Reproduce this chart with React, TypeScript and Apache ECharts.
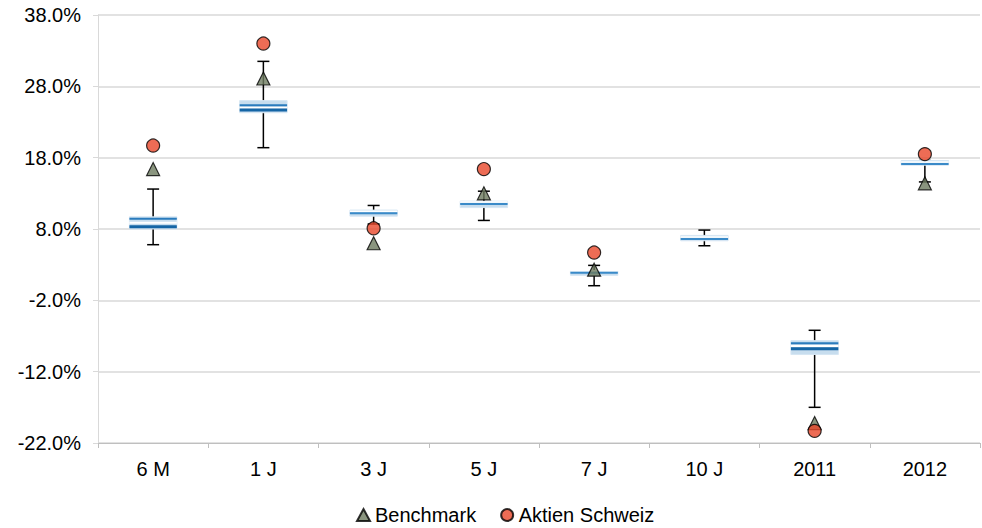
import React, { useEffect, useRef } from "react";
import * as echarts from "echarts";

const categories = ["6 M", "1 J", "3 J", "5 J", "7 J", "10 J", "2011", "2012"];
const lows = [5.8, 19.4, 8.7, 9.2, 0.05, 5.65, -17.0, 14.6];
const q1s = [8.0, 24.3, 9.8, 11.0, 1.5, 6.35, -9.6, 16.95];
const medians = [8.32, 24.68, 10.2, 11.5, 1.87, 6.6, -8.78, 17.1];
const means = [9.42, 25.34, 10.2, 11.5, 1.87, 6.6, -8.02, 17.1];
const q3s = [9.7, 26.0, 10.65, 11.9, 2.1, 7.1, -7.65, 17.6];
const highs = [13.6, 31.5, 11.3, 13.3, 2.9, 7.85, -6.2, 17.6];
const benchmark: (number | null)[] = [16.4, 29.1, 6.0, 13.0, 2.3, null, -19.2, 14.4];
const fund: (number | null)[] = [19.7, 34.0, 8.1, 16.4, 4.7, null, -20.3, 18.5];

const FONT = "'Liberation Sans', Arial, sans-serif";

export default function App() {
  const ref = useRef<HTMLDivElement>(null);
  useEffect(() => {
    if (!ref.current) return;
    const chart = echarts.init(ref.current, null, { renderer: "svg" });
    const boxData = categories.map((_, i) => [i, lows[i], q1s[i], medians[i], means[i], q3s[i], highs[i]]);
    chart.setOption({
      animation: false,
      grid: { left: 98, right: 2, top: 15, bottom: 85 },
      xAxis: {
        type: "category",
        data: categories,
        boundaryGap: true,
        axisLine: { onZero: false, lineStyle: { color: "#bfbfbf" } },
        axisTick: { show: true, length: 5, lineStyle: { color: "#bfbfbf" } },
        axisLabel: { color: "#000", fontSize: 20, fontFamily: FONT, margin: 16 },
      },
      yAxis: {
        type: "value",
        min: -22,
        max: 38,
        interval: 10,
        axisLine: { show: true, lineStyle: { color: "#d9d9d9" } },
        axisTick: { show: true, length: 5, lineStyle: { color: "#d9d9d9" } },
        splitLine: { lineStyle: { color: "#d9d9d9", width: 1.5 } },
        axisLabel: {
          color: "#000",
          fontSize: 20,
          fontFamily: FONT,
          margin: 17,
          formatter: (v: number) => v.toFixed(1) + "%",
        },
      },
      legend: {
        left: 356,
        top: 505,
        padding: 0,
        itemWidth: 13,
        itemHeight: 12,
        itemGap: 24,
        textStyle: { fontSize: 20, fontFamily: FONT, color: "#000" },
        data: [
          { name: "Benchmark", icon: "triangle" },
          { name: "Aktien Schweiz", icon: "circle" },
        ],
      },
      series: [
        {
          type: "custom",
          name: "box",
          data: boxData,
          z: 2,
          renderItem: (params: any, api: any) => {
            const i = api.value(0);
            const pLow = api.coord([i, api.value(1)]);
            const pQ1 = api.coord([i, api.value(2)]);
            const pMed = api.coord([i, api.value(3)]);
            const pMean = api.coord([i, api.value(4)]);
            const pQ3 = api.coord([i, api.value(5)]);
            const pHigh = api.coord([i, api.value(6)]);
            const bw = api.size([1, 0])[0] * 0.43;
            const cw = 12;
            const x = pLow[0];
            const children: any[] = [
              { type: "line", shape: { x1: x, y1: pHigh[1], x2: x, y2: pLow[1] }, style: { stroke: "#000", lineWidth: 1.5 } },
              { type: "line", shape: { x1: x - cw / 2, y1: pHigh[1], x2: x + cw / 2, y2: pHigh[1] }, style: { stroke: "#000", lineWidth: 1.5 } },
              { type: "line", shape: { x1: x - cw / 2, y1: pLow[1], x2: x + cw / 2, y2: pLow[1] }, style: { stroke: "#000", lineWidth: 1.5 } },
              {
                type: "rect",
                shape: { x: x - bw / 2, y: pQ3[1], width: bw, height: Math.max(pQ1[1] - pQ3[1], 3) },
                style: { fill: "#c7ddee", stroke: "#d6e6f3", lineWidth: 1 },
              },
            ];
            const gap = pMed[1] - pMean[1];
            if (gap > 3) {
              children.push({ type: "line", shape: { x1: x - bw / 2, y1: (pMed[1] + pMean[1]) / 2, x2: x + bw / 2, y2: (pMed[1] + pMean[1]) / 2 }, style: { stroke: "#ffffff", lineWidth: 2 } });
              children.push({ type: "line", shape: { x1: x - bw / 2, y1: pMean[1], x2: x + bw / 2, y2: pMean[1] }, style: { stroke: "#2a7bbd", lineWidth: 2 } });
              children.push({ type: "line", shape: { x1: x - bw / 2, y1: pMed[1], x2: x + bw / 2, y2: pMed[1] }, style: { stroke: "#1565a5", lineWidth: 3 } });
            } else {
              children.push({ type: "line", shape: { x1: x - bw / 2, y1: pMed[1] - 2, x2: x + bw / 2, y2: pMed[1] - 2 }, style: { stroke: "#ffffff", lineWidth: 1.5 } });
              children.push({ type: "line", shape: { x1: x - bw / 2, y1: pMed[1], x2: x + bw / 2, y2: pMed[1] }, style: { stroke: "#3a8ac8", lineWidth: 2 } });
            }
            return { type: "group", children };
          },
        },
        {
          type: "scatter",
          name: "Benchmark",
          symbol: "triangle",
          symbolSize: 13,
          data: benchmark,
          z: 3,
          itemStyle: { color: "#6d7a5f", borderColor: "#000", borderWidth: 1.2 },
        },
        {
          type: "scatter",
          name: "Aktien Schweiz",
          symbol: "circle",
          symbolSize: 13,
          data: fund,
          z: 4,
          itemStyle: { color: "#e8472b", borderColor: "#000", borderWidth: 1.2 },
        },
      ],
    });
    return () => chart.dispose();
  }, []);
  return <div ref={ref} style={{ width: 982, height: 528, position: "absolute", left: 0, top: 0 }} />;
}
